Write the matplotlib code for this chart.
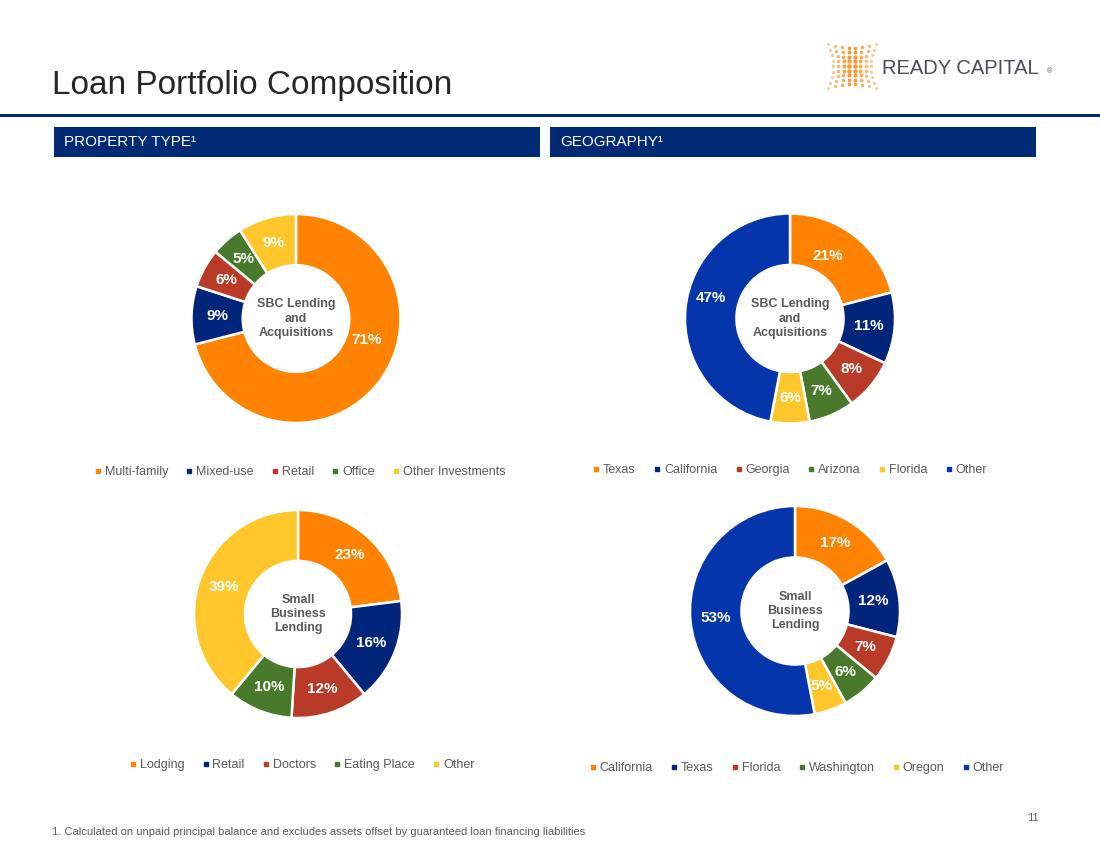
import numpy as np
import matplotlib
matplotlib.use("Agg")
import matplotlib.pyplot as plt
from matplotlib.patches import Rectangle
from matplotlib.lines import Line2D

plt.rcParams["font.family"] = ["Liberation Sans", "DejaVu Sans"]

# DATA
PROP_SBC_LABELS = ["Multi-family", "Mixed-use", "Retail", "Office", "Other Investments"]
PROP_SBC_VALUES = [71, 9, 6, 5, 9]

GEO_SBC_LABELS = ["Texas", "California", "Georgia", "Arizona", "Florida", "Other"]
GEO_SBC_VALUES = [21, 11, 8, 7, 6, 47]

PROP_SBL_LABELS = ["Lodging", "Retail", "Doctors", "Eating Place", "Other"]
PROP_SBL_VALUES = [23, 16, 12, 10, 39]

GEO_SBL_LABELS = ["California", "Texas", "Florida", "Washington", "Oregon", "Other"]
GEO_SBL_VALUES = [17, 12, 7, 6, 5, 53]

ORANGE = "#FF8300"
NAVY = "#00257A"
RED = "#B83A27"
GREEN = "#497A2B"
YELLOW = "#FFC72C"
BLUE = "#0535AA"
HEADER = "#012A75"
GREY = "#595959"

W, H = 1100, 849
fig = plt.figure(figsize=(W / 100, H / 100), dpi=100)
bg = fig.add_axes([0, 0, 1, 1])
bg.set_xlim(0, W)
bg.set_ylim(H, 0)
bg.axis("off")

# title + rule
bg.text(52, 94, "Loan Portfolio Composition", fontsize=24, color="#262626", va="baseline")
bg.add_patch(Rectangle((0, 114), W, 3, color=HEADER, lw=0))

# section headers
for x0, txt in [(54, "PROPERTY TYPE¹"), (550, "GEOGRAPHY¹")]:
    bg.add_patch(Rectangle((x0, 127), 486, 30, color=HEADER, lw=0))
    bg.text(x0 + 10, 142, txt, fontsize=11, color="white", va="center")

# logo: orange dot grid + wordmark
for t in np.linspace(-1, 1, 9):
    for s in np.linspace(-1, 1, 8):
        hw = 24 - 5 * (1 - t ** 2)
        hh = 22 - 4 * (1 - s ** 2)
        size = 3 + 9 * (1 - abs(s) * 0.7) * (1 - abs(t) * 0.5)
        bg.scatter(852 + s * hw, 66 + t * hh, s=size, color="#F0952A",
                   alpha=0.5 + 0.5 * (1 - abs(s)), lw=0)
bg.text(882, 68, "READY CAPITAL", fontsize=14.5, color="#474C55", va="center")
bg.text(1047, 72, "®", fontsize=5, color="#474C55", va="center")

# footer
bg.text(52, 832, "1. Calculated on unpaid principal balance and excludes assets offset "
        "by guaranteed loan financing liabilities", fontsize=8, color=GREY, va="center")
bg.text(1033, 818, "11", fontsize=8, color=GREY, va="center", ha="center")


def donut(cx, cy, r, values, labels, colors, center_txt, legend_xy, nudges=None):
    pad = 1.1
    ax = fig.add_axes([(cx - r * pad) / W, 1 - (cy + r * pad) / H,
                       2 * r * pad / W, 2 * r * pad / H])
    width = 0.49
    ax.pie(values, colors=colors, startangle=90, counterclock=False, radius=1,
           wedgeprops=dict(width=width, edgecolor="white", linewidth=1.8))
    ax.set_xlim(-pad, pad)
    ax.set_ylim(-pad, pad)
    ax.set_aspect("equal")
    ax.axis("off")
    total = float(sum(values))
    start = 90.0
    rr = 1 - width / 2
    for k, v in enumerate(values):
        sweep = 360.0 * v / total
        mid = np.deg2rad(start - sweep / 2)
        start -= sweep
        dx, dy = (nudges or {}).get(k, (0, 0))
        ax.text(rr * np.cos(mid) + dx, rr * np.sin(mid) + dy, f"{v}%",
                ha="center", va="center", color="white", fontsize=11, fontweight="bold")
    ax.text(0, 0, center_txt, ha="center", va="center", color=GREY, fontsize=9,
            fontweight="bold", linespacing=1.25)
    handles = [Line2D([], [], marker="s", linestyle="none", markersize=3.5,
                      markerfacecolor=c, markeredgecolor=c) for c in colors]
    fig.legend(handles, labels, loc="center", ncol=len(labels), frameon=False,
               bbox_to_anchor=(legend_xy[0] / W, 1 - legend_xy[1] / H),
               fontsize=9, labelcolor=GREY, handlelength=0.5, handletextpad=0.3,
               columnspacing=1.45)


donut(296, 318.5, 104.5, PROP_SBC_VALUES, PROP_SBC_LABELS,
      [ORANGE, NAVY, RED, GREEN, YELLOW], "SBC Lending\nand\nAcquisitions",
      (300, 472), nudges={0: (0.08, 0.26)})
donut(790, 318.5, 105, GEO_SBC_VALUES, GEO_SBC_LABELS,
      [ORANGE, NAVY, RED, GREEN, YELLOW, BLUE], "SBC Lending\nand\nAcquisitions",
      (790, 470), nudges={0: (-0.1, 0), 5: (0, 0.12)})
donut(298, 614, 104, PROP_SBL_VALUES, PROP_SBL_LABELS,
      [ORANGE, NAVY, RED, GREEN, YELLOW], "Small\nBusiness\nLending",
      (302, 765))
donut(795, 611, 105, GEO_SBL_VALUES, GEO_SBL_LABELS,
      [ORANGE, NAVY, RED, GREEN, YELLOW, BLUE], "Small\nBusiness\nLending",
      (797, 768))

fig.savefig("out.png", dpi=100)
